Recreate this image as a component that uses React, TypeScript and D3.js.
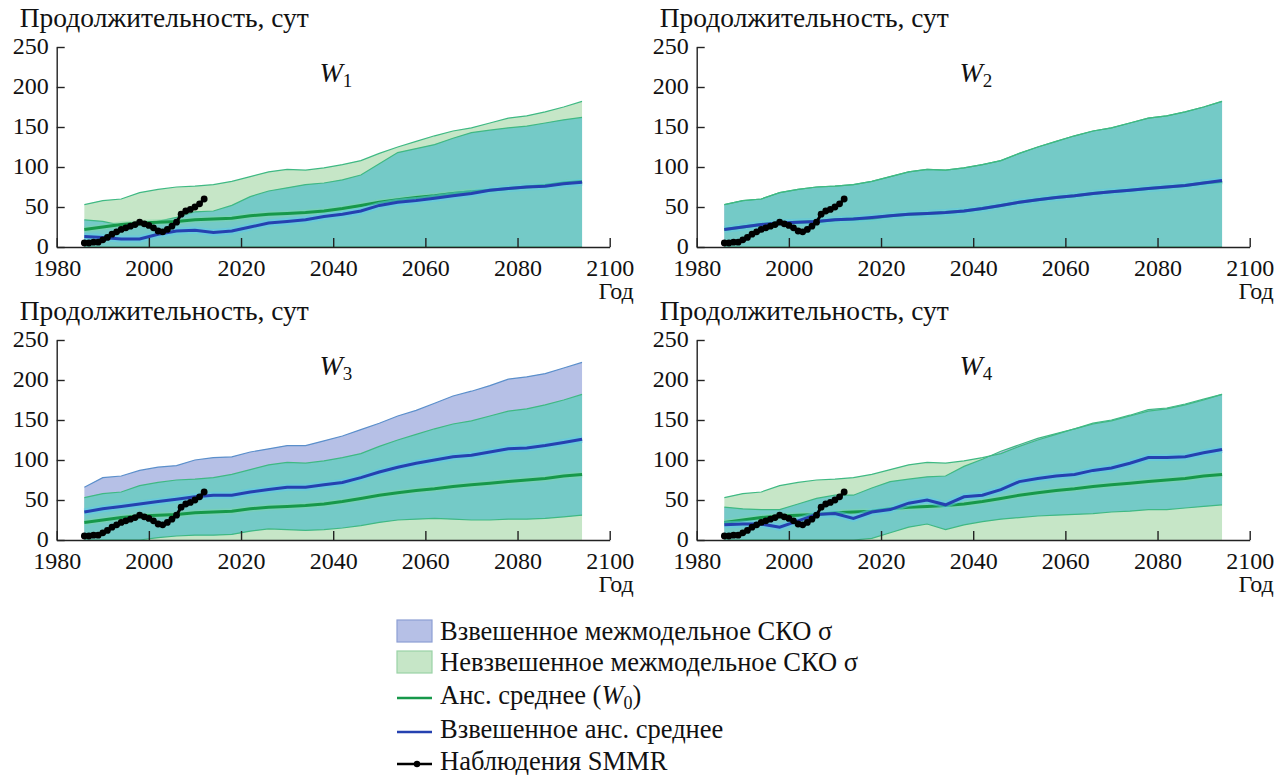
import React, { useEffect, useRef } from 'react';
import * as d3 from 'd3';

// ---------- data ----------
const years = [1986, 1990, 1994, 1998, 2002, 2006, 2010, 2014, 2018, 2022, 2026, 2030, 2034, 2038,
  2042, 2046, 2050, 2054, 2058, 2062, 2066, 2070, 2074, 2078, 2082, 2086, 2090, 2094];

// ensemble mean (W0) and unweighted mean + sigma
const ensMean = [22, 25, 28, 30, 31, 32, 34, 35, 36, 39, 41, 42, 43, 45, 48, 52, 56, 59, 62, 64, 67, 69, 71, 73, 75, 77, 80, 82];
const unwUpper = [53, 58, 60, 68, 72, 75, 76, 78, 82, 88, 94, 97, 96, 99, 103, 108, 117, 125, 132, 139, 145, 149, 155, 161, 164, 169, 175, 182];

// weighted mean and weighted band (upper / lower) per weighting
const w1Mean = [13, 12, 10, 10, 16, 20, 21, 18, 20, 25, 30, 32, 34, 38, 41, 45, 52, 56, 58, 61, 64, 67, 71, 73, 75, 76, 79, 81];
const w1Upper = [34, 32, 27, 27, 32, 37, 44, 45, 52, 63, 70, 74, 78, 80, 84, 90, 104, 118, 123, 128, 136, 143, 146, 149, 151, 155, 159, 162];
const w1Lower = [-8, -8, -7, -7, -2, -1, -2, -9, -12, -13, -10, -10, -10, -4, -2, 0, 0, -6, -7, -6, -8, -9, -4, -3, -1, -3, -1, 0];

const w2Mean = [22, 25, 28, 30, 31, 32, 34, 35, 37, 39, 41, 42, 43, 45, 48, 52, 56, 59, 62, 64, 67, 69, 71, 73, 75, 77, 80, 83];
const w2Upper = [53, 58, 60, 68, 72, 75, 76, 78, 82, 88, 94, 97, 96, 99, 103, 108, 117, 125, 132, 139, 145, 149, 155, 161, 164, 169, 175, 182];
const w2Lower = [-9, -8, -4, -8, -10, -11, -8, -8, -8, -10, -12, -13, -10, -9, -7, -4, -5, -7, -8, -11, -11, -11, -13, -15, -14, -15, -15, -18];

const w3Mean = [35, 39, 42, 45, 48, 51, 54, 56, 56, 60, 63, 66, 66, 69, 72, 78, 85, 91, 96, 100, 104, 106, 110, 114, 115, 118, 122, 126];
const w3Upper = [66, 78, 80, 87, 91, 93, 100, 103, 104, 110, 114, 118, 118, 124, 130, 138, 146, 155, 162, 171, 180, 186, 193, 201, 204, 208, 215, 222];
const w3Lower = [-2, -4, -3, -1, 3, 5, 6, 6, 7, 11, 14, 13, 12, 13, 15, 18, 22, 25, 26, 27, 26, 25, 25, 26, 26, 27, 29, 31];

const w4Mean = [19, 20, 20, 16, 24, 32, 33, 27, 35, 38, 46, 50, 44, 54, 56, 63, 73, 77, 80, 82, 87, 90, 96, 103, 103, 104, 109, 113];
const w4Upper = [41, 39, 38, 38, 45, 52, 56, 56, 65, 73, 76, 79, 80, 92, 101, 111, 119, 127, 133, 139, 146, 150, 156, 163, 165, 170, 176, 182];
const w4Lower = [-3, -1, -2, -6, -3, -5, -8, -6, 2, 9, 16, 20, 13, 19, 23, 26, 28, 30, 31, 32, 33, 35, 36, 38, 38, 40, 42, 44];

// SMMR observations
const obsYears = [1986, 1987, 1988, 1989, 1990, 1991, 1992, 1993, 1994, 1995, 1996, 1997, 1998, 1999,
  2000, 2001, 2002, 2003, 2004, 2005, 2006, 2007, 2008, 2009, 2010, 2011, 2012];
const obsValues = [5, 5, 6, 6, 9, 12, 16, 19, 22, 24, 26, 28, 31, 29, 27, 24, 20, 19, 22, 26, 31, 41, 45, 47, 50, 54, 60];

const xTicks = [1980, 2000, 2020, 2040, 2060, 2080, 2100];
const yTicks = [0, 50, 100, 150, 200, 250];
const panelSubs = ['1', '2', '3', '4'];

const legendLabels = [
  'Взвешенное межмодельное СКО σ',
  'Невзвешенное межмодельное СКО σ',
  'Анс. среднее (',
  'Взвешенное анс. среднее',
  'Наблюдения SMMR',
];

// ---------- styling / layout ----------
const FONT = "'Liberation Serif', 'Times New Roman', Times, serif";
const C_GREEN_FILL = '#c6e6c7';
const C_BLUE_FILL = '#b6c0e6';
const C_TEAL = '#74cac7';
const C_GREEN_EDGE = '#3fb983';
const C_BLUE_EDGE = '#5b8fcb';
const C_MEAN0 = '#17984a';
const C_WMEAN = '#2541b0';
const C_HALO = '#5cc8f0';

const PW = 553; // axis width
const PH = 200; // axis height
const layout = [
  { x0: 56.7, y0: 247 },
  { x0: 696.7, y0: 247 },
  { x0: 56.7, y0: 540 },
  { x0: 696.7, y0: 540 },
];

const panelSeries = [
  { mean: w1Mean, upper: w1Upper, lower: w1Lower },
  { mean: w2Mean, upper: w2Upper, lower: w2Lower },
  { mean: w3Mean, upper: w3Upper, lower: w3Lower },
  { mean: w4Mean, upper: w4Upper, lower: w4Lower },
];

export default function App() {
  const ref = useRef<SVGSVGElement>(null);

  useEffect(() => {
    const svg = d3.select(ref.current);
    svg.selectAll('*').remove();

    layout.forEach((L, i) => {
      const P = panelSeries[i];
      const g = svg.append('g');
      const x = d3.scaleLinear().domain([1980, 2100]).range([L.x0, L.x0 + PW]);
      const y = d3.scaleLinear().domain([0, 250]).range([L.y0, L.y0 - PH]);

      const rows = years.map((yr, k) => {
        const uu = unwUpper[k];
        const ul = Math.max(0, 2 * ensMean[k] - unwUpper[k]);
        const wu = P.upper[k];
        const wl = Math.max(0, P.lower[k]);
        const il = Math.max(ul, wl);
        const iu = Math.max(il, Math.min(uu, wu));
        return { yr, m: ensMean[k], wm: P.mean[k], uu, ul, wu, wl, il, iu };
      });

      const area = (lo: (d: any) => number, hi: (d: any) => number) =>
        d3.area<any>().x(d => x(d.yr)).y0(d => y(lo(d))).y1(d => y(hi(d)));
      const line = (f: (d: any) => number) => d3.line<any>().x(d => x(d.yr)).y(d => y(f(d)));

      g.append('path').attr('d', area(d => d.ul, d => d.uu)(rows)).attr('fill', C_GREEN_FILL);
      g.append('path').attr('d', area(d => d.wl, d => d.wu)(rows)).attr('fill', C_BLUE_FILL);
      g.append('path').attr('d', area(d => d.il, d => d.iu)(rows)).attr('fill', C_TEAL);

      // band edges
      g.append('path').attr('d', line(d => d.uu)(rows)).attr('fill', 'none')
        .attr('stroke', C_GREEN_EDGE).attr('stroke-width', 1.2);
      g.append('path').attr('d', line(d => d.wu)(rows)).attr('fill', 'none')
        .attr('stroke', i === 2 ? C_BLUE_EDGE : C_GREEN_EDGE).attr('stroke-width', 1.2);
      g.append('path').attr('d', line(d => d.wl)(rows)).attr('fill', 'none')
        .attr('stroke', C_GREEN_EDGE).attr('stroke-width', 1.2);

      // ensemble mean
      g.append('path').attr('d', line(d => d.m)(rows)).attr('fill', 'none')
        .attr('stroke', '#7fd6a6').attr('stroke-width', 6).attr('stroke-opacity', 0.45);
      g.append('path').attr('d', line(d => d.m)(rows)).attr('fill', 'none')
        .attr('stroke', C_MEAN0).attr('stroke-width', 3);
      // weighted mean
      g.append('path').attr('d', line(d => d.wm)(rows)).attr('fill', 'none')
        .attr('stroke', C_HALO).attr('stroke-width', 7).attr('stroke-opacity', 0.5);
      g.append('path').attr('d', line(d => d.wm)(rows)).attr('fill', 'none')
        .attr('stroke', C_WMEAN).attr('stroke-width', 3);

      // observations
      const obs = obsYears.map((yr, k) => ({ yr, v: obsValues[k] }));
      g.append('path').attr('d', d3.line<any>().x(d => x(d.yr)).y(d => y(d.v))(obs))
        .attr('fill', 'none').attr('stroke', '#000').attr('stroke-width', 3);
      g.selectAll('circle.o').data(obs).enter().append('circle')
        .attr('cx', d => x(d.yr)).attr('cy', d => y(d.v)).attr('r', 3.4).attr('fill', '#000');

      // axes
      const ax = g.append('g').attr('transform', `translate(${L.x0},0)`)
        .call(d3.axisLeft(y).tickValues(yTicks).tickSize(-8).tickSizeOuter(0).tickPadding(8).tickFormat(d3.format('d')));
      const bx = g.append('g').attr('transform', `translate(0,${L.y0})`)
        .call(d3.axisBottom(x).tickValues(xTicks).tickSize(-9).tickSizeOuter(0).tickPadding(12).tickFormat(d3.format('d')));
      [ax, bx].forEach(a => {
        a.attr('font-family', FONT).attr('font-size', 24);
        a.selectAll('path, line').attr('stroke', '#222').attr('stroke-width', 1.4);
        a.selectAll('text').attr('fill', '#111');
      });
      ax.selectAll('text').attr('dy', '0.25em');

      // titles
      g.append('text').attr('x', L.x0 - 37).attr('y', L.y0 - 220)
        .attr('font-family', FONT).attr('font-size', 27.5).attr('fill', '#111')
        .text('Продолжительность, сут');
      g.append('text').attr('x', L.x0 + PW + 24).attr('y', L.y0 + 52).attr('text-anchor', 'end')
        .attr('font-family', FONT).attr('font-size', 24).attr('fill', '#111').text('Год');
      const wt = g.append('text').attr('x', x(2037)).attr('y', L.y0 - 165)
        .attr('font-family', FONT).attr('font-size', 28).attr('fill', '#111');
      wt.append('tspan').attr('font-style', 'italic').text('W');
      wt.append('tspan').attr('font-size', 19).attr('dy', 5).text(panelSubs[i]);
    });

    // legend
    const lg = svg.append('g').attr('font-family', FONT).attr('font-size', 26.5).attr('fill', '#111');
    const lx = 397, tx = 440;
    const rowY = [631, 662, 695, 729, 761];
    lg.append('rect').attr('x', lx).attr('y', rowY[0] - 11).attr('width', 35).attr('height', 22)
      .attr('fill', C_BLUE_FILL).attr('stroke', '#8d9fd4').attr('stroke-width', 1.2);
    lg.append('rect').attr('x', lx).attr('y', rowY[1] - 11).attr('width', 35).attr('height', 22)
      .attr('fill', C_GREEN_FILL).attr('stroke', '#9ad2a6').attr('stroke-width', 1.2);
    lg.append('line').attr('x1', lx).attr('x2', lx + 35).attr('y1', rowY[2] + 3).attr('y2', rowY[2] + 3)
      .attr('stroke', C_MEAN0).attr('stroke-width', 2.5);
    lg.append('line').attr('x1', lx).attr('x2', lx + 35).attr('y1', rowY[3] + 3).attr('y2', rowY[3] + 3)
      .attr('stroke', C_WMEAN).attr('stroke-width', 2.5);
    lg.append('line').attr('x1', lx).attr('x2', lx + 35).attr('y1', rowY[4] + 3).attr('y2', rowY[4] + 3)
      .attr('stroke', '#000').attr('stroke-width', 2.5);
    lg.append('circle').attr('cx', lx + 20).attr('cy', rowY[4] + 3).attr('r', 3.2).attr('fill', '#000');

    legendLabels.forEach((t, k) => {
      const te = lg.append('text').attr('x', tx).attr('y', rowY[k]).attr('dy', '0.35em');
      te.append('tspan').text(t);
      if (k === 2) {
        te.append('tspan').attr('font-style', 'italic').text('W');
        te.append('tspan').attr('font-size', 18).attr('dy', 5).text('0');
        te.append('tspan').attr('dy', -5).text(')');
      }
    });
  }, []);

  return (
    <svg ref={ref} width={1287} height={775}
      style={{ position: 'absolute', left: 0, top: 0, background: '#fff' }} />
  );
}
